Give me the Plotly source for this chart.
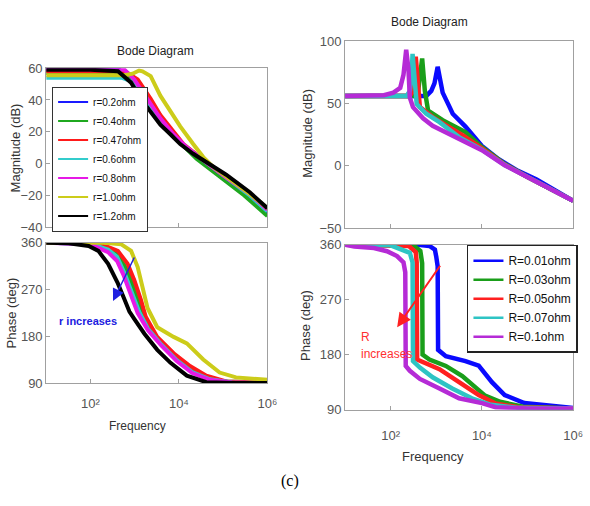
import plotly.graph_objects as go

# ---------------- Left: magnitude (r sweep) ----------------
r_names = ["r=0.2ohm", "r=0.4ohm", "r=0.47ohm", "r=0.6ohm", "r=0.8ohm", "r=1.0ohm", "r=1.2ohm"]
r_colors = ["#1a1aff", "#1fa81f", "#ff1a1a", "#33cccc", "#e619e6", "#cccc1a", "#000000"]

mag_r_f = [
    [10, 100, 450, 650, 1000, 2000, 3800, 7500, 15000, 40000, 120000, 400000, 1000000],
    [10, 100, 550, 800, 1100, 2000, 3800, 7000, 10000, 25000, 60000, 120000, 300000, 1000000],
    [10, 100, 600, 1170, 2300, 3800, 6500, 12600, 29500, 60000, 150000, 400000, 1000000],
    [10, 100, 500, 800, 1200, 2200, 3800, 7000, 15000, 40000, 120000, 400000, 1000000],
    [10, 100, 590, 980, 1950, 3800, 7600, 15000, 40000, 120000, 400000, 1000000],
    [10, 100, 600, 900, 1260, 1500, 2300, 3800, 6500, 10700, 21000, 35500, 59000, 150000, 400000, 1000000],
    [10, 100, 420, 830, 1380, 2290, 3800, 6500, 10700, 21000, 59000, 117000, 400000, 1000000],
]
mag_r_db = [
    [59.5, 59.5, 59, 55, 49, 37, 26, 17, 10, 1, -10, -22, -32],
    [57, 57, 56.5, 54, 50, 40, 28, 19, 14, 3, -5, -11, -20, -33],
    [58, 58, 58, 52.9, 40.7, 30.5, 22.4, 12.3, 4.1, -2, -10, -19, -28.5],
    [54, 54, 54, 52, 47, 37, 27, 18, 10, 1, -9, -20, -30],
    [59.5, 59.5, 59, 52.9, 40.7, 28.5, 18.3, 10.2, 1, -9, -19, -29],
    [55.5, 55.5, 55.5, 56.5, 58.5, 58, 55, 42.7, 32.6, 23.4, 12.3, 4.1, -2, -10, -19, -28],
    [59, 59, 58, 50.9, 40.7, 32.6, 24.4, 18.3, 12.3, 6.2, -2, -7, -18, -28],
]

# ---------------- Left: phase (r sweep) ----------------
ph_r_f = [
    [10, 100, 250, 400, 600, 890, 1260, 2000, 3980, 8910, 20000, 50100, 158000, 1000000],
    [10, 100, 250, 400, 630, 890, 1260, 1660, 3160, 7080, 15800, 39800, 100000, 1000000],
    [10, 100, 250, 417, 692, 977, 1380, 1780, 3240, 7590, 17800, 41700, 117000, 1000000],
    [10, 100, 250, 400, 600, 890, 1260, 2000, 3980, 8910, 20000, 50100, 158000, 1000000],
    [10, 100, 250, 400, 560, 830, 1170, 2000, 3980, 8910, 20000, 50100, 158000, 1000000],
    [10, 200, 500, 830, 1170, 1510, 1950, 3240, 7590, 15100, 35500, 83200, 195000, 1000000],
    [10, 32, 91, 151, 251, 417, 589, 760, 977, 1660, 3240, 6460, 15100, 41700, 195000, 1000000],
]
ph_r_deg = [
    [360, 358, 345, 330, 302, 265, 232, 197, 167, 137, 113, 98, 92, 91],
    [360, 359, 350, 340, 312, 282, 245, 215, 178, 146, 121, 103, 94, 92],
    [360, 359, 352, 344.5, 319.6, 288.6, 251, 218, 179.4, 148, 123.5, 105, 94, 92],
    [360, 358, 347, 333, 300, 262, 228, 195, 165, 135, 112, 98, 92, 91],
    [360, 357, 342, 325, 298, 258, 225, 192, 163, 133, 110, 97, 92, 91],
    [360, 360, 357, 344.5, 313.4, 276, 235, 198, 179.4, 167, 136, 111, 101.7, 97],
    [360, 359, 354, 344.5, 319.6, 282, 251, 228, 214, 185.5, 154.6, 129.7, 105, 92.4, 91, 91],
]

# ---------------- Right: magnitude (R sweep) ----------------
R_names = ["R=0.01ohm", "R=0.03ohm", "R=0.05ohm", "R=0.07ohm", "R=0.1ohm"]
R_colors = ["#0a0aff", "#1a9e1a", "#ff2020", "#2ec4c4", "#b52bd6"]

mag_R_f = [
    [10, 603, 776, 912, 1072, 1202, 1380, 1905, 2291, 4365, 10000, 22900, 61700, 158000, 1000000],
    [10, 339, 398, 447, 490, 562, 661, 1380, 4365, 10000, 31600, 100000, 1000000],
    [10, 263, 309, 339, 355, 380, 437, 832, 1622, 3981, 10000, 31600, 100000, 1000000],
    [10, 224, 263, 288, 302, 331, 372, 603, 1175, 3160, 10000, 31600, 100000, 1000000],
    [10, 71, 115, 162, 191, 219, 245, 263, 309, 437, 513, 832, 3160, 10000, 31600, 100000, 316000, 1000000],
]
mag_R_db = [
    [56, 56, 60, 66, 79.3, 67.6, 58.6, 48, 41.7, 31.4, 15.9, 5.5, -4, -11, -28],
    [56, 56, 59, 72, 86, 60, 44.3, 36.5, 27, 15, 1.5, -9, -28],
    [56, 56, 60, 70, 87.5, 72, 47, 39, 32.6, 24, 14, 1, -9, -28],
    [56, 56, 60, 72.8, 89.7, 75, 49.5, 41.7, 35, 23, 13, 0.7, -9, -28],
    [56, 56.5, 58.6, 62.5, 72.8, 93, 78, 54.7, 47, 40, 38, 32, 21, 12.5, 0.5, -9, -18.5, -28],
]

# ---------------- Right: phase (R sweep) ----------------
ph_R_f = [
    [10, 398, 708, 933, 1000, 1072, 1096, 1620, 4365, 8510, 16600, 31600, 85100, 1000000],
    [10, 316, 447, 490, 500, 708, 1620, 3720, 8510, 11750, 25100, 79400, 1000000],
    [10, 251, 355, 372, 380, 562, 1175, 3160, 8510, 20000, 63100, 1000000],
    [10, 100, 263, 302, 309, 437, 832, 2239, 6026, 15800, 63100, 1000000],
    [10, 16, 43, 83, 138, 191, 209, 214, 263, 437, 1175, 3160, 10000, 20000, 100000, 1000000],
]
ph_R_deg = [
    [360, 360, 358, 352, 340, 325, 188, 177.5, 169.5, 162, 135, 114, 101, 93],
    [360, 359, 350, 330, 180, 172, 161.6, 145, 122, 113, 103, 95, 92],
    [360, 358, 348, 331, 172, 166.9, 156.3, 135, 114, 100, 94, 92],
    [360, 359, 346.8, 331, 169.5, 159, 143, 124.6, 108.7, 98, 93, 92],
    [360, 357, 354.7, 349.4, 341.4, 331, 315, 161.6, 153.7, 140.4, 124.6, 108.7, 100.8, 94, 92, 92],
]

x_tickvals = [100, 10000, 1000000]
x_ticktext = ["10\u00b2", "10\u2074", "10\u2076"]

SANS = "Liberation Sans, Arial, sans-serif"

fig = go.Figure()

for i in range(len(r_names)):
    fig.add_trace(go.Scatter(x=mag_r_f[i], y=mag_r_db[i], mode="lines", xaxis="x", yaxis="y",
                             line=dict(color=r_colors[i], width=4), showlegend=False, hoverinfo="skip"))
    fig.add_trace(go.Scatter(x=ph_r_f[i], y=ph_r_deg[i], mode="lines", xaxis="x2", yaxis="y2",
                             line=dict(color=r_colors[i], width=4), showlegend=False, hoverinfo="skip"))
for i in range(len(r_names)):
    fig.add_trace(go.Scatter(x=[None], y=[None], mode="lines", xaxis="x", yaxis="y", name=r_names[i],
                             line=dict(color=r_colors[i], width=2), legend="legend"))

for i in range(len(R_names)):
    fig.add_trace(go.Scatter(x=mag_R_f[i], y=mag_R_db[i], mode="lines", xaxis="x3", yaxis="y3",
                             line=dict(color=R_colors[i], width=4.5), showlegend=False, hoverinfo="skip"))
    fig.add_trace(go.Scatter(x=ph_R_f[i], y=ph_R_deg[i], mode="lines", xaxis="x4", yaxis="y4",
                             line=dict(color=R_colors[i], width=4.5), showlegend=False, hoverinfo="skip"))
for i in range(len(R_names)):
    fig.add_trace(go.Scatter(x=[None], y=[None], mode="lines", xaxis="x4", yaxis="y4", name=R_names[i],
                             line=dict(color=R_colors[i], width=2.5), legend="legend2"))

axis_common = dict(showline=True, mirror=True, linecolor="#a0a0a0", linewidth=1, ticks="inside",
                   ticklen=4, tickcolor="#a0a0a0", showgrid=False, zeroline=False,
                   tickfont=dict(family=SANS, size=13, color="#555555"))

LX = [47 / 590, 272 / 590]
RX = [351 / 590, 583 / 590]

fig.update_layout(
    width=590, height=506, margin=dict(l=0, r=0, t=0, b=0),
    paper_bgcolor="white", plot_bgcolor="white",
    xaxis=dict(domain=LX, type="log", range=[1, 6], anchor="y", tickvals=[100, 10000],
               showticklabels=False, **axis_common),
    yaxis=dict(domain=[1 - 227 / 506, 1 - 63 / 506], range=[-40, 60], anchor="x",
               tickvals=[-40, -20, 0, 20, 40, 60], **axis_common),
    xaxis2=dict(domain=LX, type="log", range=[1, 6], anchor="y2", tickvals=x_tickvals,
                ticktext=x_ticktext, ticklabelstandoff=8, **axis_common),
    yaxis2=dict(domain=[1 - 388 / 506, 1 - 243 / 506], range=[90, 360], anchor="x2",
                tickvals=[90, 180, 270, 360], **axis_common),
    xaxis3=dict(domain=RX, type="log", range=[1, 6], anchor="y3", tickvals=[100, 10000],
                showticklabels=False, **axis_common),
    yaxis3=dict(domain=[1 - 228 / 506, 1 - 35 / 506], range=[-50, 100], anchor="x3",
                tickvals=[-50, 0, 50, 100], **axis_common),
    xaxis4=dict(domain=RX, type="log", range=[1, 6], anchor="y4", tickvals=x_tickvals,
                ticktext=x_ticktext, ticklabelstandoff=14, **axis_common),
    yaxis4=dict(domain=[1 - 415 / 506, 1 - 245 / 506], range=[90, 360], anchor="x4",
                tickvals=[90, 180, 270, 360], **axis_common),
    legend=dict(x=53 / 590, y=1 - 82 / 506, xanchor="left", yanchor="top",
                bordercolor="#333333", borderwidth=1, bgcolor="white",
                font=dict(family=SANS, size=10, color="#111111"), tracegroupgap=0),
    legend2=dict(x=475 / 590, y=1 - 245 / 506, xanchor="left", yanchor="top",
                 bordercolor="#222222", borderwidth=1.5, bgcolor="white",
                 font=dict(family=SANS, size=12, color="#111111"), tracegroupgap=0),
)

def txt(x, y, s, size=12, color="#222222", angle=0, family=SANS, bold=False):
    fig.add_annotation(x=x / 590, y=1 - y / 506, xref="paper", yref="paper",
                       text=("<b>%s</b>" % s) if bold else s,
                       showarrow=False, textangle=angle, font=dict(family=family, size=size, color=color),
                       xanchor="center", yanchor="middle")

txt(158, 45, "Bode Diagram", 12)
txt(437, 15, "Bode Diagram", 12)
txt(16, 145, "Magnitude (dB)", 13, "#333333", -90)
txt(12, 315, "Phase (deg)", 13, "#333333", -90)
txt(312, 130, "Magnitude (dB)", 13, "#333333", -90)
txt(311, 328, "Phase (deg)", 13, "#333333", -90)
txt(140, 432, "Frequency", 12, "#333333")
txt(440, 463, "Frequency", 13, "#333333")
txt(295, 488, "(c)", 16, "#000000", family="Liberation Serif, Times New Roman, serif")
txt(90, 324, "r increases", 11, "#2020e0", bold=True)
txt(372, 340, "R", 12, "#ff3030")
txt(393, 358, "increases", 12, "#ff3030")

# arrows
fig.add_annotation(x=115 / 590, y=1 - 303 / 506, xref="paper", yref="paper", text="", showarrow=True,
                   ax=22, ay=-45, arrowcolor="#2020e0", arrowwidth=1.5, arrowhead=2, arrowsize=1.6)
fig.add_annotation(x=404 / 590, y=1 - 330 / 506, xref="paper", yref="paper", text="", showarrow=True,
                   ax=44, ay=-63, arrowcolor="#ff2020", arrowwidth=2, arrowhead=2, arrowsize=1.4)

fig.write_html("out.html")
